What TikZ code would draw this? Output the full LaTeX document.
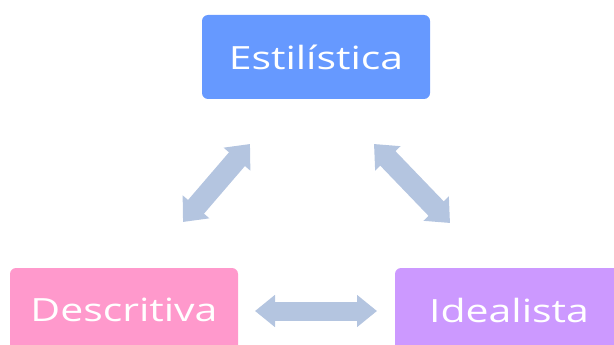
\documentclass[tikz,border=0pt]{standalone}
\usepackage{fontspec}
\setmainfont{Open Sans}[FakeStretch=1.28]
\usetikzlibrary{arrows.meta}
\definecolor{estblue}{HTML}{6699FF}
\definecolor{despink}{HTML}{FF99CC}
\definecolor{idepurple}{HTML}{CC99FF}
\definecolor{linkgray}{HTML}{B4C5E0}
\tikzset{
  box/.style={rounded corners=6pt, minimum width=228pt, minimum height=84pt,
    inner sep=0pt, text=white, font=\fontsize{32}{36}\selectfont},
  link/.style={line width=19pt, draw=linkgray,
    {Triangle[width=31pt,length=20pt]}-{Triangle[width=31pt,length=20pt]}},
  slant/.style={link, line width=21pt,
    {Triangle[width=34pt,length=20pt]}-{Triangle[width=34pt,length=20pt]}}
}
\begin{document}
\begin{tikzpicture}[x=1pt,y=-1pt]
\useasboundingbox (0,0) rectangle (614,345);
\node[box, fill=estblue] (est) at (316,57) {Estilística};
\node[box, fill=despink] (des) at (124,310) {Descritiva};
\node[box, fill=idepurple] (ide) at (509,310) {Idealista};
% ends of the arrows
\coordinate (l1) at (250,144);
\coordinate (l2) at (183,222);
\coordinate (r1) at (374,144);
\coordinate (r2) at (450,223);
\coordinate (h1) at (255,311);
\coordinate (h2) at (377,311);
\draw[slant] (l1) -- (l2);
\draw[slant] (r1) -- (r2);
\draw[link] (h1) -- (h2);
\end{tikzpicture}
\end{document}
